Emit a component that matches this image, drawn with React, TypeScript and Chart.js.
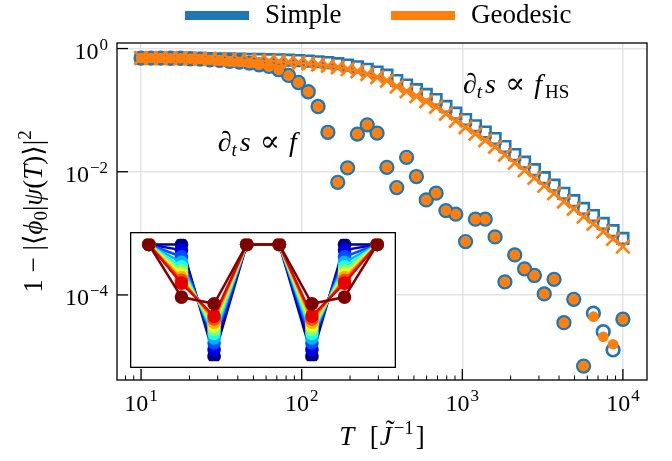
import React, { useEffect, useRef } from 'react';
import { Chart, registerables } from 'chart.js';

Chart.register(...registerables);

// ---------- data ----------
const T = [
  10.0, 11.51, 13.26, 15.26, 17.58, 20.24, 23.3, 26.83, 30.89, 35.56,
  40.95, 47.15, 54.29, 62.51, 71.97, 82.86, 95.41, 109.85, 126.49, 145.63,
  167.68, 193.07, 222.3, 255.95, 294.71, 339.32, 390.7, 449.84, 517.95, 596.36,
  686.65, 790.6, 910.3, 1048.11, 1206.79, 1389.5, 1599.86, 1842.07, 2120.95, 2442.05,
  2811.77, 3237.46, 3727.59, 4291.93, 4941.71, 5689.87, 6551.29, 7543.12, 8685.11, 10000,
];

const SIMPLE_F = [
  0.701, 0.701, 0.701, 0.695, 0.695, 0.683, 0.675, 0.658, 0.641, 0.617,
  0.604, 0.581, 0.545, 0.512, 0.453, 0.366, 0.281, 0.199, 0.1146, 0.0437,
  0.00673, 0.01157, 0.0408, 0.0578, 0.0424, 0.01179, 0.00554, 0.01714, 0.00836, 0.00349,
  0.00449, 0.00234, 0.00205, 0.000735, 0.0017, 0.0017, 0.000875, 0.000163, 0.000447, 0.000265,
  0.000207, 0.000104, 0.000179, 3.55e-5, 8.5e-5, 7.0e-6, 5.04e-5, 2.53e-5, 1.28e-5, 4.03e-5,
];

const GEODESIC_F = [
  0.701, 0.701, 0.701, 0.695, 0.695, 0.683, 0.675, 0.658, 0.641, 0.617,
  0.604, 0.581, 0.545, 0.512, 0.453, 0.366, 0.281, 0.199, 0.1146, 0.0437,
  0.00673, 0.01157, 0.0408, 0.0578, 0.0424, 0.01179, 0.00554, 0.01714, 0.00836, 0.00349,
  0.00449, 0.00234, 0.00205, 0.000735, 0.0017, 0.0017, 0.000875, 0.000163, 0.000447, 0.000265,
  0.000207, 0.000104, 0.000179, 3.55e-5, 8.5e-5, 7.0e-6, 4.44e-5, 2.1e-5, 1.58e-5, 4.03e-5,
];

const SIMPLE_HS = [
  0.701, 0.701, 0.698, 0.696, 0.693, 0.693, 0.69, 0.688, 0.683, 0.678,
  0.675, 0.67, 0.665, 0.66, 0.655, 0.648, 0.638, 0.626, 0.61, 0.592,
  0.568, 0.539, 0.504, 0.461, 0.415, 0.37, 0.303, 0.256, 0.215, 0.18,
  0.1484, 0.115, 0.0892, 0.0705, 0.0557, 0.044, 0.0345, 0.0256, 0.01896, 0.01432,
  0.01082, 0.00802, 0.00606, 0.00446, 0.00339, 0.00254, 0.00194, 0.00145, 0.001104, 0.000828,
];

const GEODESIC_HS = [
  0.701, 0.701, 0.698, 0.696, 0.693, 0.688, 0.683, 0.678, 0.67, 0.663,
  0.655, 0.645, 0.636, 0.626, 0.617, 0.603, 0.588, 0.571, 0.55, 0.525,
  0.497, 0.464, 0.428, 0.385, 0.342, 0.3, 0.242, 0.2024, 0.168, 0.1392,
  0.1134, 0.0872, 0.0671, 0.0527, 0.0413, 0.0324, 0.0254, 0.01882, 0.01395, 0.01054,
  0.00796, 0.0059, 0.00446, 0.00328, 0.0025, 0.00187, 0.001424, 0.001068, 0.000812, 0.000609,
];

const X_MAJOR = [10, 100, 1000, 10000];
const X_MAJOR_EXP = ['1', '2', '3', '4'];
const Y_MAJOR = [1, 1e-2, 1e-4];
const Y_MAJOR_EXP = ['0', '\u22122', '\u22124'];
const LEGEND_LABELS = ['Simple', 'Geodesic'];

// inset: 11 snapshots over 8 sites
const INSET_SITES = [0, 1, 2, 3, 4, 5, 6, 7];
const INSET_LINE_0 = [1, 1.0, 0.0, 1, 1, 0.0, 1.0, 1];
const INSET_LINE_1 = [1, 0.95, 0.06, 1, 1, 0.06, 0.95, 1];
const INSET_LINE_2 = [1, 0.89, 0.12, 1, 1, 0.12, 0.89, 1];
const INSET_LINE_3 = [1, 0.84, 0.165, 1, 1, 0.165, 0.84, 1];
const INSET_LINE_4 = [1, 0.8, 0.205, 1, 1, 0.205, 0.8, 1];
const INSET_LINE_5 = [1, 0.765, 0.24, 1, 1, 0.24, 0.765, 1];
const INSET_LINE_6 = [1, 0.735, 0.275, 1, 1, 0.275, 0.735, 1];
const INSET_LINE_7 = [1, 0.705, 0.305, 1, 1, 0.305, 0.705, 1];
const INSET_LINE_8 = [1, 0.68, 0.335, 1, 1, 0.335, 0.68, 1];
const INSET_LINE_9 = [1, 0.655, 0.36, 1, 1, 0.36, 0.655, 1];
const INSET_LINE_10 = [1, 0.53, 0.47, 1, 1, 0.47, 0.53, 1];
const INSET_LINES = [
  INSET_LINE_0, INSET_LINE_1, INSET_LINE_2, INSET_LINE_3, INSET_LINE_4, INSET_LINE_5,
  INSET_LINE_6, INSET_LINE_7, INSET_LINE_8, INSET_LINE_9, INSET_LINE_10,
];

// ---------- styles ----------
const BLUE = '#1f77b4';
const ORANGE = '#ff7f0e';
const JET = [
  'rgb(0,0,128)', 'rgb(0,0,230)', 'rgb(0,77,255)', 'rgb(0,179,255)', 'rgb(26,255,230)',
  'rgb(128,255,128)', 'rgb(230,255,26)', 'rgb(255,179,0)', 'rgb(255,77,0)', 'rgb(230,0,0)', 'rgb(128,0,0)',
];
const SERIF = "'Liberation Serif', 'Times New Roman', 'DejaVu Serif', serif";
const font = (size: number, it = false) => `${it ? 'italic ' : ''}${size}px ${SERIF}`;

type Seg = { t: string; size: number; it?: boolean; dx?: number; dy?: number; adv?: boolean };

function drawSegs(ctx: CanvasRenderingContext2D, segs: Seg[], x: number, y: number, align: 'left' | 'center' | 'right') {
  ctx.textAlign = 'left';
  ctx.textBaseline = 'alphabetic';
  const widths = segs.map((s) => {
    ctx.font = font(s.size, s.it);
    return s.adv === false ? 0 : ctx.measureText(s.t).width + (s.dx ?? 0);
  });
  const total = widths.reduce((a, b) => a + b, 0);
  let cx = align === 'left' ? x : align === 'center' ? x - total / 2 : x - total;
  segs.forEach((s, i) => {
    ctx.font = font(s.size, s.it);
    ctx.fillText(s.t, cx + (s.dx ?? 0), y + (s.dy ?? 0));
    cx += widths[i];
  });
}

const pts = (vals: number[]) => vals.map((v, i) => ({ x: T[i], y: v }));

const decorPlugin = {
  id: 'decor',
  afterDraw(chart: any) {
    const { ctx, chartArea: a, scales } = chart;
    const xs = scales.x;
    const ys = scales.y;
    ctx.save();
    ctx.strokeStyle = '#000';
    ctx.fillStyle = '#000';
    const line = (x1: number, y1: number, x2: number, y2: number, w: number) => {
      ctx.lineWidth = w;
      ctx.beginPath();
      ctx.moveTo(x1, y1);
      ctx.lineTo(x2, y2);
      ctx.stroke();
    };
    // x ticks (inward)
    X_MAJOR.forEach((v) => {
      const px = xs.getPixelForValue(v);
      line(px, a.bottom, px, a.bottom - 11, 1.3);
    });
    [1, 10, 100, 1000, 10000].forEach((d) => {
      for (let m = 2; m <= 9; m++) {
        const v = m * d;
        if (v > xs.min && v < xs.max) {
          const px = xs.getPixelForValue(v);
          line(px, a.bottom, px, a.bottom - 4.5, 1);
        }
      }
    });
    // y ticks
    Y_MAJOR.forEach((v) => {
      const py = ys.getPixelForValue(v);
      line(a.left, py, a.left + 11, py, 1.3);
    });
    // frame
    ctx.lineWidth = 1.3;
    ctx.strokeRect(a.left, a.top, a.right - a.left, a.bottom - a.top);

    // tick labels
    X_MAJOR.forEach((v, i) => {
      const px = xs.getPixelForValue(v);
      drawSegs(ctx, [
        { t: '10', size: 24 },
        { t: X_MAJOR_EXP[i], size: 17, dy: -10, dx: 1 },
      ], px, a.bottom + 31, 'center');
    });
    Y_MAJOR.forEach((v, i) => {
      const py = ys.getPixelForValue(v);
      drawSegs(ctx, [
        { t: '10', size: 24 },
        { t: Y_MAJOR_EXP[i], size: 17, dy: -9, dx: 1 },
      ], a.left - 9, py + 10, 'right');
    });

    // axis titles
    drawSegs(ctx, [
      { t: 'T', size: 27, it: true },
      { t: '  [', size: 27, dx: 2 },
      { t: '\u02dc', size: 27, adv: false, dx: 7, dy: -6 },
      { t: 'J', size: 27, it: true, dx: 1 },
      { t: '\u22121', size: 19, dy: -11, dx: 2 },
      { t: ']', size: 27, dx: 2 },
    ], (a.left + a.right) / 2, 445, 'center');

    ctx.save();
    ctx.translate(42, (a.top + a.bottom) / 2);
    ctx.rotate(-Math.PI / 2);
    drawSegs(ctx, [
      { t: '1 \u2212 |\u27e8', size: 27 },
      { t: '\u03d5', size: 27, it: true },
      { t: '0', size: 19, dy: 5 },
      { t: '|', size: 27 },
      { t: '\u03c8', size: 27, it: true },
      { t: '(', size: 27 },
      { t: 'T', size: 27, it: true },
      { t: ')\u27e9|', size: 27 },
      { t: '2', size: 19, dy: -11 },
    ], 0, 0, 'center');
    ctx.restore();

    // annotations (anchored in data coordinates)
    drawSegs(ctx, [
      { t: '\u2202', size: 28, it: true },
      { t: 't', size: 19, it: true, dy: 5 },
      { t: 's', size: 28, it: true, dx: 3 },
      { t: '\u221d', size: 30, dx: 9 },
      { t: 'f', size: 28, it: true, dx: 9 },
      { t: 'HS', size: 19, dy: 5, dx: 3 },
    ], xs.getPixelForValue(1010), ys.getPixelForValue(0.19), 'left');
    drawSegs(ctx, [
      { t: '\u2202', size: 28, it: true },
      { t: 't', size: 19, it: true, dy: 5 },
      { t: 's', size: 28, it: true, dx: 3 },
      { t: '\u221d', size: 30, dx: 9 },
      { t: 'f', size: 28, it: true, dx: 9 },
    ], xs.getPixelForValue(30), ys.getPixelForValue(0.0214), 'left');

    // legend
    const legendColors = [BLUE, ORANGE];
    const legendX = [185, 391];
    LEGEND_LABELS.forEach((lab, i) => {
      ctx.fillStyle = legendColors[i];
      ctx.fillRect(legendX[i], 11, 64, 9);
      ctx.fillStyle = '#000';
      drawSegs(ctx, [{ t: lab, size: 27 }], legendX[i] + 80, 23, 'left');
    });
    ctx.restore();
  },
};

const insetPlugin = {
  id: 'insetFrame',
  beforeDraw(chart: any) {
    const { ctx, width, height } = chart;
    ctx.save();
    ctx.fillStyle = '#fff';
    ctx.fillRect(0, 0, width, height);
    ctx.restore();
  },
  afterDraw(chart: any) {
    const { ctx, width, height } = chart;
    ctx.save();
    ctx.strokeStyle = '#000';
    ctx.lineWidth = 1.3;
    ctx.strokeRect(0.65, 0.65, width - 1.3, height - 1.3);
    ctx.restore();
  },
};

export default function App() {
  const mainRef = useRef<HTMLCanvasElement>(null);
  const insetRef = useRef<HTMLCanvasElement>(null);

  useEffect(() => {
    const main = new Chart(mainRef.current as HTMLCanvasElement, {
      type: 'scatter',
      data: {
        datasets: [
          {
            label: 'Simple HS',
            data: pts(SIMPLE_HS),
            pointStyle: 'rect',
            pointRadius: 7.5,
            pointBorderWidth: 2.6,
            pointBorderColor: BLUE,
            pointBackgroundColor: 'rgba(0,0,0,0)',
            borderColor: BLUE,
            backgroundColor: 'rgba(0,0,0,0)',
            showLine: false,
            order: 4,
          },
          {
            label: 'Simple f',
            data: pts(SIMPLE_F),
            pointStyle: 'circle',
            pointRadius: 6.3,
            pointBorderWidth: 2.7,
            pointBorderColor: BLUE,
            pointBackgroundColor: 'rgba(0,0,0,0)',
            borderColor: BLUE,
            backgroundColor: 'rgba(0,0,0,0)',
            showLine: false,
            order: 3,
          },
          {
            label: 'Geodesic HS',
            data: pts(GEODESIC_HS),
            pointStyle: 'crossRot',
            pointRadius: 9.5,
            pointBorderWidth: 2.6,
            pointBorderColor: ORANGE,
            pointBackgroundColor: ORANGE,
            borderColor: ORANGE,
            backgroundColor: ORANGE,
            borderWidth: 2.5,
            showLine: true,
            order: 2,
          },
          {
            label: 'Geodesic f',
            data: pts(GEODESIC_F),
            pointStyle: 'circle',
            pointRadius: 5.3,
            pointBorderWidth: 0,
            pointBorderColor: ORANGE,
            pointBackgroundColor: ORANGE,
            borderColor: ORANGE,
            backgroundColor: ORANGE,
            showLine: false,
            order: 1,
          },
        ],
      },
      options: {
        animation: false,
        responsive: false,
        devicePixelRatio: 1,
        events: [],
        layout: { padding: { left: 0, right: 25, top: 43, bottom: 0 } },
        plugins: { legend: { display: false }, tooltip: { enabled: false }, title: { display: false } },
        scales: {
          x: {
            type: 'logarithmic',
            min: 7.08,
            max: 14125,
            afterBuildTicks: (s: any) => { s.ticks = X_MAJOR.map((v) => ({ value: v })); },
            afterFit: (s: any) => { s.height = 81; },
            ticks: { display: false },
            grid: { color: '#e3e3e3', lineWidth: 1.5, drawTicks: false },
            border: { display: false },
          },
          y: {
            type: 'logarithmic',
            min: 4.16e-6,
            max: 1.23,
            afterBuildTicks: (s: any) => { s.ticks = Y_MAJOR.map((v) => ({ value: v })); },
            afterFit: (s: any) => { s.width = 117; },
            ticks: { display: false },
            grid: { color: '#e3e3e3', lineWidth: 1.5, drawTicks: false },
            border: { display: false },
          },
        },
      } as any,
      plugins: [decorPlugin],
    });

    const inset = new Chart(insetRef.current as HTMLCanvasElement, {
      type: 'scatter',
      data: {
        datasets: INSET_LINES.map((vals, k) => ({
          label: `t${k}`,
          data: vals.map((v, i) => ({ x: INSET_SITES[i], y: v })),
          showLine: true,
          borderColor: JET[k],
          backgroundColor: JET[k],
          borderWidth: 2.5,
          pointRadius: 6.8,
          pointBorderWidth: 0,
          pointBackgroundColor: JET[k],
          pointBorderColor: JET[k],
          order: INSET_LINES.length - k,
        })),
      },
      options: {
        animation: false,
        responsive: false,
        devicePixelRatio: 1,
        events: [],
        layout: { padding: 0 },
        plugins: { legend: { display: false }, tooltip: { enabled: false } },
        scales: {
          x: { type: 'linear', display: false, min: -0.37, max: 7.37 },
          y: { type: 'linear', display: false, min: -0.043, max: 1.051 },
        },
      } as any,
      plugins: [insetPlugin],
    });

    return () => {
      main.destroy();
      inset.destroy();
    };
  }, []);

  return (
    <div style={{ position: 'fixed', left: 0, top: 0, width: 672, height: 461, background: '#fff' }}>
      <canvas ref={mainRef} width={672} height={461} style={{ position: 'absolute', left: 0, top: 0, width: 672, height: 461 }} />
      <canvas ref={insetRef} width={266} height={136} style={{ position: 'absolute', left: 130, top: 232, width: 266, height: 136 }} />
    </div>
  );
}
